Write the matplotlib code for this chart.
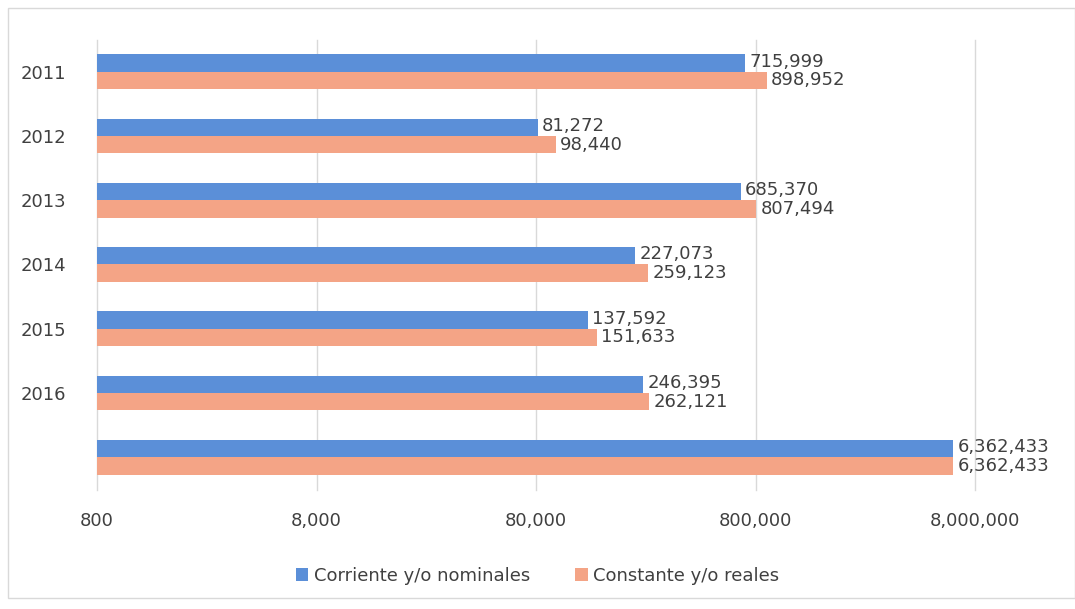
import matplotlib
matplotlib.use("Agg")
import matplotlib.pyplot as plt
from matplotlib.patches import Rectangle
import numpy as np

categories = ["2011", "2012", "2013", "2014", "2015", "2016", ""]
corriente = [715999, 81272, 685370, 227073, 137592, 246395, 6362433]
constante = [898952, 98440, 807494, 259123, 151633, 262121, 6362433]
xticks = [800, 8000, 80000, 800000, 8000000]

BLUE = "#5B8FD8"
SALMON = "#F4A486"
TEXT = "#404040"
BASE = 800

fig = plt.figure(figsize=(10.75, 6.09), dpi=100)
ax = fig.add_axes([97 / 1075, 1 - 489.5 / 609, (975 - 97) / 1075, 450 / 609])

y = np.arange(len(categories))
h = 0.27
ax.barh(y - h / 2, [v - BASE for v in corriente], left=BASE, height=h, color=BLUE,
        label="Corriente y/o nominales")
ax.barh(y + h / 2, [v - BASE for v in constante], left=BASE, height=h, color=SALMON,
        label="Constante y/o reales")

for yi, v in zip(y, corriente):
    ax.annotate(f"{v:,}", (v, yi - h / 2), xytext=(3, 1), textcoords="offset points",
                va="center", ha="left", fontsize=13, color=TEXT)
for yi, v in zip(y, constante):
    ax.annotate(f"{v:,}", (v, yi + h / 2), xytext=(3, 0), textcoords="offset points",
                va="center", ha="left", fontsize=13, color=TEXT)

ax.set_xscale("log")
ax.set_xlim(800, 8000000)
ax.set_xticks(xticks)
ax.set_xticklabels([f"{t:,}" for t in xticks])
ax.minorticks_off()
ax.set_ylim(len(categories) - 0.5, -0.5)
ax.set_yticks(y)
ax.set_yticklabels(categories)
ax.tick_params(axis="x", length=0, pad=16, labelsize=13, labelcolor=TEXT)
ax.tick_params(axis="y", length=0, pad=22, labelsize=13, labelcolor=TEXT)
for s in ax.spines.values():
    s.set_visible(False)
# vertical gridlines, drawn unclipped so the edge ones show in full
for t in xticks:
    ax.axvline(t, color="#D9D9D9", linewidth=1, zorder=0, clip_on=False)

fig.legend(loc="center", bbox_to_anchor=(0.5, 1 - 576 / 609), ncol=2, frameon=False,
           fontsize=13, handlelength=0.7, handleheight=0.7, handletextpad=0.3,
           columnspacing=2.5, labelcolor=TEXT)

# light chart border
fig.patches.append(Rectangle((8 / 1075, 1 - 598 / 609), 1 - 8 / 1075, 590 / 609,
                             transform=fig.transFigure, fill=False,
                             edgecolor="#D9D9D9", linewidth=1))

fig.savefig("out.png", dpi=100)
